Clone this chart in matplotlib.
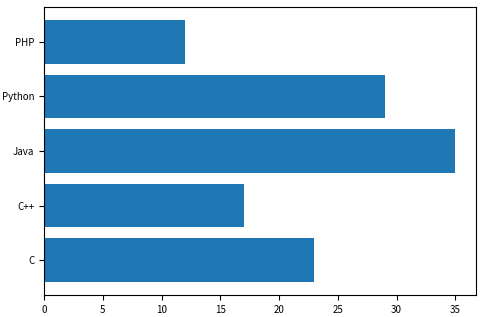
import matplotlib
matplotlib.use('Agg')
import matplotlib.pyplot as plt

# data
languages = ['C', 'C++', 'Java', 'Python', 'PHP']
counts = [23, 17, 35, 29, 12]

plt.rcParams['font.family'] = ['Noto Sans CJK SC', 'DejaVu Sans']
plt.rcParams['font.size'] = 7

fig = plt.figure(figsize=(4.83, 3.17), dpi=100)
ax = fig.add_axes([44 / 483, 22 / 317, 432 / 483, 288 / 317])

ax.barh(languages, counts, color='#1f77b4')

ax.tick_params(labelsize=7, length=3.5)

fig.savefig('out.png', dpi=100)
